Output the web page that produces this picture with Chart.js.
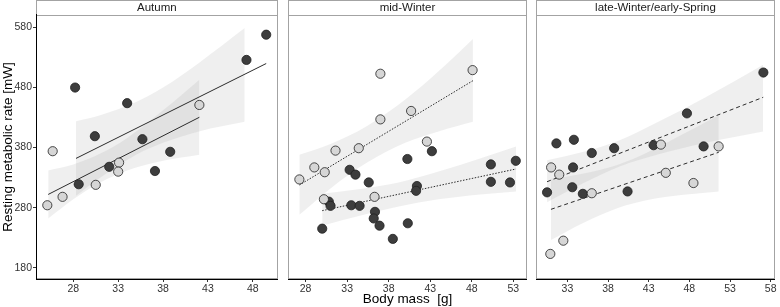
<!DOCTYPE html>
<html><head><meta charset="utf-8">
<script src="https://cdn.jsdelivr.net/npm/chart.js@4.4.1/dist/chart.umd.min.js"></script>
<style>
html,body{margin:0;padding:0;background:#fff;}
#wrap{position:relative;width:780px;height:307px;overflow:hidden;background:#fff;}
canvas{position:absolute;top:0;}
</style></head><body>
<div id="wrap">
<canvas id="c1" style="left:0px" width="283" height="307"></canvas>
<canvas id="c2" style="left:283px" width="249" height="307"></canvas>
<canvas id="c3" style="left:531px" width="249" height="307"></canvas>
</div>
<script>
// ---- data ----
const panelTitles = ['Autumn', 'mid-Winter', 'late-Winter/early-Spring'];
const yTitle = 'Resting metabolic rate [mW]';
const xTitle = 'Body mass  [g]';
const yTicks = [180, 280, 380, 480, 580];
const xTicksAutumn = [28, 33, 38, 43, 48];
const xTicksMid = [28, 33, 38, 43, 48, 53];
const xTicksLate = [33, 38, 43, 48, 53, 58];

// points [body mass, RMR]
const autumnDark = [[28.2,480],[34.0,454],[30.4,399],[35.7,394],[38.8,373],[47.3,526],[49.5,568],[28.6,319],[32.0,348],[37.1,341]];
const autumnLight = [[25.7,374],[42.05,451],[25.1,284],[26.8,298],[30.5,318],[33.1,355],[33.0,340]];
const midDark = [[43.2,374],[40.25,361],[50.3,352],[53.3,358],[50.3,323],[52.6,322],[33.3,343],[34.0,335],[35.6,322],[41.4,316],[41.3,308],[30.8,290],[31.0,283],[33.5,284],[34.5,283],[36.35,273],[36.2,262],[36.9,250],[40.3,254],[30.0,245],[38.5,228]];
const midLight = [[37.0,503],[48.1,509],[40.7,441],[37.0,427],[42.6,390],[31.6,375],[34.4,379],[29.05,347],[30.3,339],[27.25,327],[30.2,294],[36.3,298]];
const lateDark = [[57.1,505],[47.7,437],[31.65,387],[33.8,393],[36.0,371],[38.75,379],[43.6,384],[49.75,382],[33.7,347],[30.5,305.5],[33.6,314],[34.9,303],[40.4,307]];
const lateLight = [[44.5,385],[51.6,382],[31.0,347],[32.0,335],[45.1,338],[48.5,321],[36.0,304],[32.5,225],[30.9,203]];

// fitted lines (end points)
const autumnDarkFit = [[28.3,362],[49.5,520]];
const autumnLightFit = [[25.2,302],[42.05,430.5]];
const midDarkFit = [[30.0,275],[53.33,344.4]];
const midLightFit = [[27.25,317.7],[48.14,491.4]];
const lateDarkFit = [[30.5,323.2],[57.08,463.8]];
const lateLightFit = [[30.98,277.2],[51.61,372.2]];

// confidence bands [x, lower, upper]
const autumnDarkBand = [[28.3,300,424],[31,330,434],[35,368,456],[38,388,480],[42,407,521],[47.1,423,579]];
const autumnLightBand = [[25.2,262,342],[28,294,352],[31,322,370],[34,342,396],[38,358,442],[42.05,368,493]];
const midDarkBand = [[30,250,303],[35,268,312],[39.2,282,322],[44,294,340],[49,302,362],[53.33,307,382]];
const midLightBand = [[27.25,268,368],[31,312,386],[35.4,355,416],[40,388,460],[44,407,507],[48.14,423,561]];
const lateDarkBand = [[30.5,289,359],[35,321,373],[39.35,348,392],[44,368,422],[50,388,464],[57.08,407,518]];
const lateLightBand = [[30.98,226,328],[35,255,337],[39.13,279,351],[43,293,373],[47,301,401],[51.61,307,434]];

// ---- drawing ----
const FONT = '"Liberation Sans", Arial, Helvetica, sans-serif';
const Y_MIN = 161.2, Y_MAX = 600.8;
const bandColor = 'rgba(150,150,150,0.15)';
const darkFill = '#3d3d3d', lightFill = '#d6d6d6';

const stripPlugin = {
  id: 'strip',
  beforeDraw(chart) {
    const {ctx, chartArea: a} = chart;
    ctx.save();
    const l = Math.round(a.left) + 0.5, r = Math.round(a.right) - 0.5;
    const t = Math.round(a.top) + 0.5, b = Math.round(a.bottom) - 0.5;
    ctx.fillStyle = '#fff';
    ctx.fillRect(l, 0.5, r - l, t - 0.5);
    ctx.strokeStyle = '#a3a3a3';
    ctx.lineWidth = 1;
    ctx.strokeRect(l, 0.5, r - l, t - 0.5);
    ctx.strokeRect(l, t, r - l, b - t);
    ctx.restore();
  }
};

const toXY = arr => arr.map(p => ({x: p[0], y: p[1]}));

function bandSets(band) {
  return [
    {data: band.map(b => ({x: b[0], y: b[2]})), showLine: true, borderColor: 'rgba(0,0,0,0)', borderWidth: 0,
     pointRadius: 0, fill: '+1', backgroundColor: bandColor, tension: 0.4, cubicInterpolationMode: 'monotone', order: 5},
    {data: band.map(b => ({x: b[0], y: b[1]})), showLine: true, borderColor: 'rgba(0,0,0,0)', borderWidth: 0,
     pointRadius: 0, fill: false, tension: 0.4, cubicInterpolationMode: 'monotone', order: 5}
  ];
}
function fitSet(fit, dash) {
  return {data: toXY(fit), showLine: true, borderColor: '#2b2b2b', borderWidth: 1, borderDash: dash,
          pointRadius: 0, fill: false, order: 3};
}
function pointSet(pts, fill) {
  return {data: toXY(pts), showLine: false, pointRadius: 4.6, pointBackgroundColor: fill,
          pointBorderColor: '#1f1f1f', pointBorderWidth: 0.8, fill: false, order: 1};
}

function makePanel(id, idx, cfg) {
  const tickFont = {family: FONT, size: 10.5};
  new Chart(document.getElementById(id), {
    type: 'line',
    data: {datasets: [
      ...bandSets(cfg.bandA), ...bandSets(cfg.bandB),
      fitSet(cfg.fitA, cfg.dash), fitSet(cfg.fitB, cfg.dash),
      pointSet(cfg.lightPts, lightFill), pointSet(cfg.darkPts, darkFill)
    ]},
    options: {
      responsive: false, animation: false, devicePixelRatio: 1,
      layout: {padding: {left: cfg.padL, right: cfg.padR, top: 0, bottom: 0}},
      plugins: {
        legend: {display: false}, tooltip: {enabled: false},
        title: {display: true, text: panelTitles[idx], fullSize: false, color: '#1a1a1a',
                font: {family: FONT, size: 11.5, weight: 'normal'}, padding: {top: 1, bottom: 0.2}}
      },
      scales: {
        x: {
          type: 'linear', min: cfg.xMin, max: cfg.xMax,
          afterBuildTicks: s => { s.ticks = cfg.xTicks.map(v => ({value: v})); },
          afterFit: s => { s.height = 28; },
          grid: {drawOnChartArea: false, drawTicks: true, tickLength: 3, color: '#333'},
          border: {display: true, color: '#000', width: 1},
          ticks: {font: tickFont, color: '#333', padding: 1, maxRotation: 0, autoSkip: false},
          title: {display: idx === 1, text: xTitle, color: '#000', font: {family: FONT, size: 13.5}, padding: {top: 0, bottom: 0}}
        },
        y: {
          display: idx === 0, min: Y_MIN, max: Y_MAX,
          afterBuildTicks: s => { s.ticks = yTicks.map(v => ({value: v})); },
          afterFit: s => { s.width = idx === 0 ? 36 : 0; },
          grid: {drawOnChartArea: false, drawTicks: true, tickLength: 3, color: '#333'},
          border: {display: true, color: '#000', width: 1},
          ticks: {font: tickFont, color: '#333', padding: 1},
          title: {display: true, text: yTitle, color: '#000', font: {family: FONT, size: 13.5}, padding: 0}
        }
      }
    },
    plugins: [stripPlugin]
  });
}

makePanel('c1', 0, {xMin: 23.84, xMax: 50.77, xTicks: xTicksAutumn, padL: 0, padR: 1, dash: [],
  bandA: autumnDarkBand, bandB: autumnLightBand, fitA: autumnDarkFit, fitB: autumnLightFit,
  darkPts: autumnDark, lightPts: autumnLight});
makePanel('c2', 1, {xMin: 25.93, xMax: 54.6, xTicks: xTicksMid, padL: 2, padR: 2, dash: [1.5, 1.5],
  bandA: midDarkBand, bandB: midLightBand, fitA: midDarkFit, fitB: midLightFit,
  darkPts: midDark, lightPts: midLight});
makePanel('c3', 2, {xMin: 29.19, xMax: 58.48, xTicks: xTicksLate, padL: 2, padR: 1, dash: [4, 3],
  bandA: lateDarkBand, bandB: lateLightBand, fitA: lateDarkFit, fitB: lateLightFit,
  darkPts: lateDark, lightPts: lateLight});
</script>
</body></html>
